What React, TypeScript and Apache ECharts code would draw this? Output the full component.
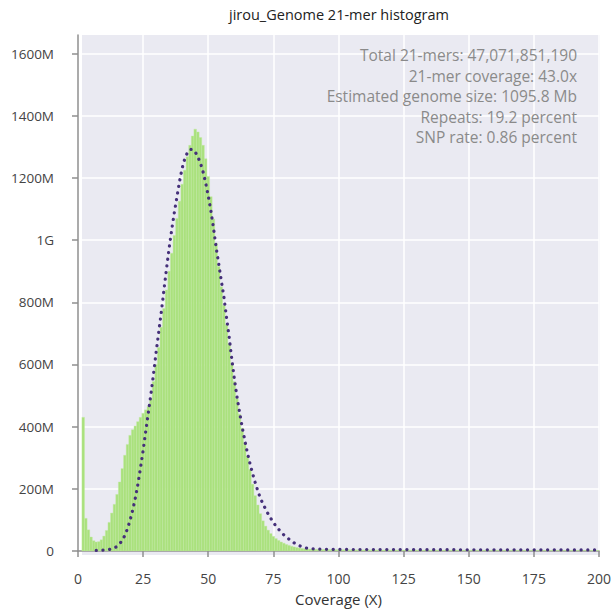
import React, { useEffect, useRef } from 'react';
import * as echarts from 'echarts';

// ---- data (counts in millions of k-mers) ----
const histStartCoverage = 2;
const histCountsM = [
  430, 105, 68, 45, 33, 29, 30, 36, 48, // 2-10
  66, 92, 122, 150, 182, 222, 265, 308, 343, 372, // 11-20
  390, 402, 416, 430, 443, 454, 465, 490, 545, 600, // 21-30
  655, 720, 780, 840, 900, 958, 1015, 1070, 1125, 1180, // 31-40
  1225, 1268, 1305, 1335, 1357, 1348, 1330, 1305, 1262, 1205, // 41-50
  1140, 1068, 990, 915, 850, 790, 728, 668, 605, 545, // 51-60
  490, 440, 395, 350, 305, 262, 215, 178, 148, 120, // 61-70
  97, 80, 67, 56, 47, 40, 34, 29, 25, 21, // 71-80
  18, 15, 13, 11, 9.5, 8, 7, 6.5, 6, 5.5, // 81-90
  5.2, 5, 4.8, 4.6, 4.5, 4.4, 4.3, 4.2, 4.1, 4, // 91-100
  3.9, 3.9, 3.8, 3.8, 3.7, 3.7, 3.6, 3.6, 3.5, 3.5,
  3.5, 3.4, 3.4, 3.4, 3.3, 3.3, 3.3, 3.2, 3.2, 3.2,
  3.1, 3.1, 3.1, 3.0, 3.0, 3.0, 3.0, 2.9, 2.9, 2.9,
  2.9, 2.8, 2.8, 2.8, 2.8, 2.7, 2.7, 2.7, 2.7, 2.6,
  2.6, 2.6, 2.6, 2.5, 2.5, 2.5, 2.5, 2.4, 2.4, 2.4,
  2.4, 2.4, 2.3, 2.3, 2.3, 2.3, 2.3, 2.2, 2.2, 2.2,
  2.2, 2.2, 2.1, 2.1, 2.1, 2.1, 2.1, 2.0, 2.0, 2.0,
  2.0, 2.0, 2.0, 1.9, 1.9, 1.9, 1.9, 1.9, 1.9, 1.8,
  1.8, 1.8, 1.8, 1.8, 1.8, 1.7, 1.7, 1.7, 1.7, 1.7,
  1.7, 1.7, 1.6, 1.6, 1.6, 1.6, 1.6, 1.6, 1.6, 1.5,
];

const modelCoverage = [
  7, 8, 9, 10, 11, 12, 13, 14, 15, 16, 17, 18, 19, 20,
  21, 22, 23, 24, 25, 26, 27, 28, 29, 30, 31, 32, 33, 34, 35, 36, 37, 38, 39, 40,
  41, 42, 43, 44, 45, 46, 47, 48, 49, 50, 51, 52, 53, 54, 55, 56, 57, 58, 59, 60,
  61, 62, 63, 64, 65, 66, 67, 68, 69, 70, 71, 72, 73, 74, 75, 76, 77, 78, 79, 80,
  81, 82, 83, 84, 85, 86, 87, 88, 89, 90, 92, 95, 100,
  110, 120, 130, 140, 150, 160, 170, 180, 190, 200,
];
const modelCountsM = [
  2, 2, 2.5, 3, 4, 5, 7, 10, 15, 23, 35, 50, 72, 99,
  132, 170, 215, 268, 323, 385, 445, 505, 570, 640, 705, 770, 840, 910, 975, 1035, 1090, 1140, 1190, 1232,
  1262, 1282, 1292, 1292, 1284, 1268, 1248, 1220, 1185, 1142, 1095, 1040, 978, 925, 870, 818, 752, 690, 620, 555,
  498, 447, 400, 357, 317, 282, 250, 221, 194, 170, 152, 135, 119, 105, 92, 80, 70, 60, 52, 45,
  38, 32, 26, 21, 17, 14, 11, 9, 8, 7, 6, 5.5, 5,
  4.8, 4.6, 4.4, 4.2, 4.0, 3.9, 3.8, 3.7, 3.6, 3.5,
];

const xTickValues = [0, 25, 50, 75, 100, 125, 150, 175, 200];
const yTickValuesM = [0, 200, 400, 600, 800, 1000, 1200, 1400, 1600];
const yTickLabels = ['0', '200M', '400M', '600M', '800M', '1G', '1200M', '1400M', '1600M'];

const titleText = 'jirou_Genome 21-mer histogram';
const xAxisName = 'Coverage (X)';
const statsLines = [
  'Total 21-mers: 47,071,851,190',
  '21-mer coverage: 43.0x',
  'Estimated genome size: 1095.8 Mb',
  'Repeats: 19.2 percent',
  'SNP rate: 0.86 percent',
];

export default function App() {
  const ref = useRef<HTMLDivElement>(null);

  useEffect(() => {
    if (!ref.current) return;
    const chart = echarts.init(ref.current, null, { renderer: 'svg' });
    const M = 1e6;
    const font = 'Open Sans';
    const histData = histCountsM.map((v, i) => [histStartCoverage + i, v * M]);
    const modelData = modelCoverage.map((c, i) => [c, modelCountsM[i] * M]);
    const yTicks = yTickValuesM.map((v) => v * M);

    const gridLeft = 78;
    const gridTop = 35;
    const gridRight = 14;
    const gridBottom = 56;

    chart.setOption({
      animation: false,
      textStyle: { fontFamily: font },
      grid: { left: gridLeft, right: gridRight, top: gridTop, bottom: gridBottom },
      graphic: [
        {
          type: 'rect',
          z: -10,
          silent: true,
          shape: { x: 82, y: gridTop, width: 614 - gridRight - 82, height: 611 - gridTop - gridBottom },
          style: { fill: '#eaeaf2' },
        },
        {
          type: 'text',
          z: 10,
          x: 339,
          y: 14,
          style: {
            text: titleText,
            fill: '#222',
            font: `14.5px "${font}"`,
            textAlign: 'center',
            textVerticalAlign: 'middle',
          },
        },
        ...statsLines.map((t, i) => ({
          type: 'text',
          z: 10,
          x: 577,
          y: 55 + i * 20.5,
          style: {
            text: t,
            fill: '#8a8a8a',
            font: `15.5px "${font}"`,
            textAlign: 'right',
            textVerticalAlign: 'middle',
          },
        })),
      ],
      xAxis: {
        type: 'value',
        min: 0,
        max: 200,
        interval: 25,
        offset: 11,
        axisLine: { show: true, lineStyle: { color: '#8f8f8f', width: 1.5 } },
        axisTick: { show: true, length: 6, lineStyle: { color: '#8f8f8f', width: 1.5 } },
        axisLabel: {
          margin: 9,
          color: '#444',
          fontSize: 14,
          fontFamily: font,
          customValues: xTickValues,
        },
        splitLine: { show: true, lineStyle: { color: '#ffffff', width: 1.5 } },
        name: xAxisName,
        nameLocation: 'middle',
        nameGap: 29,
        nameTextStyle: { color: '#333', fontSize: 15, fontFamily: font },
      },
      yAxis: {
        type: 'value',
        min: 0,
        max: 1660 * M,
        interval: 200 * M,
        offset: 11,
        axisLine: { show: true, lineStyle: { color: '#8f8f8f', width: 1.5 } },
        axisTick: { show: true, length: 6, lineStyle: { color: '#8f8f8f', width: 1.5 }, customValues: yTicks },
        axisLabel: {
          margin: 13,
          color: '#444',
          fontSize: 13.5,
          fontFamily: font,
          customValues: yTicks,
          formatter: (v: number) => {
            const idx = yTicks.findIndex((t) => Math.abs(t - v) < 1);
            return idx >= 0 ? yTickLabels[idx] : '';
          },
        },
        splitLine: { show: true, lineStyle: { color: '#ffffff', width: 1.5 } },
      },
      series: [
        {
          type: 'custom',
          name: 'histogram',
          clip: true,
          z: 2,
          encode: { x: 0, y: 1 },
          data: histData,
          renderItem: (params: any, api: any) => {
            const c = api.value(0);
            const v = api.value(1);
            const p0 = api.coord([c - 0.5, v]);
            const p1 = api.coord([c + 0.5, 0]);
            return {
              type: 'rect',
              shape: { x: p0[0], y: p0[1], width: p1[0] - p0[0], height: p1[1] - p0[1] },
              style: { fill: '#aae17d', stroke: '#c2eaa2', lineWidth: 0.4 },
            };
          },
        },
        {
          type: 'line',
          name: 'model',
          data: modelData,
          showSymbol: false,
          symbol: 'none',
          z: 5,
          lineStyle: { color: '#45307a', width: 3.2, type: [0.1, 6.6], cap: 'round' },
        },
      ],
    });

    return () => chart.dispose();
  }, []);

  return (
    <div
      ref={ref}
      style={{ position: 'fixed', left: 0, top: 0, width: 614, height: 611, background: '#fff' }}
    />
  );
}
